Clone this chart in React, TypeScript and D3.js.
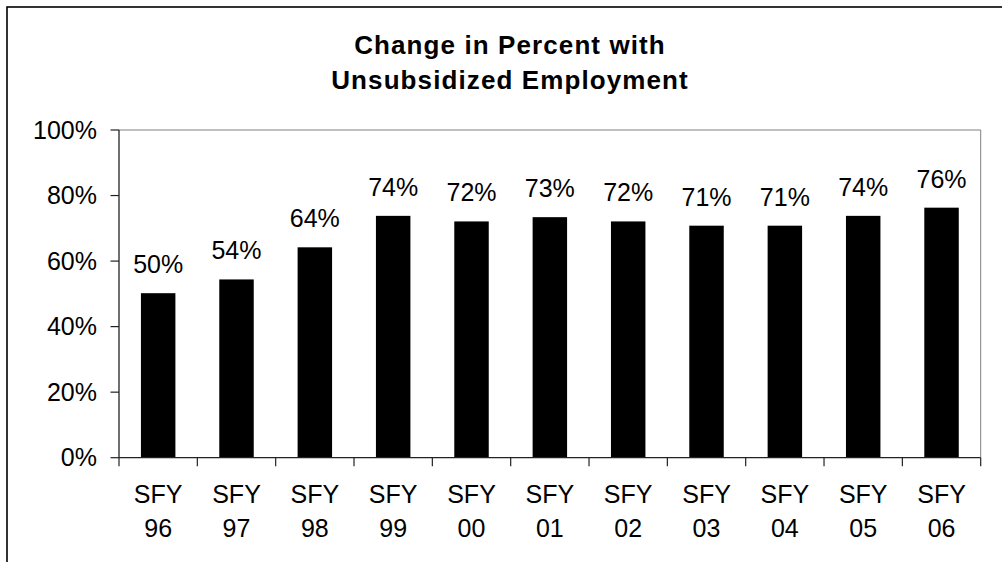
import React from "react";
import * as d3 from "d3";

const categories = ["96", "97", "98", "99", "00", "01", "02", "03", "04", "05", "06"];
const values = [50.2, 54.4, 64.2, 73.8, 72.1, 73.4, 72.1, 70.8, 70.8, 73.8, 76.3];
const labels = ["50%", "54%", "64%", "74%", "72%", "73%", "72%", "71%", "71%", "74%", "76%"];
const yTicks = [0, 20, 40, 60, 80, 100];
const titleLines = ["Change in Percent with", "Unsubsidized Employment"];

const W = 1002;
const H = 562;
const plot = { left: 119, right: 980.7, top: 130, bottom: 457.7 };
const FONT = "'Liberation Sans', Arial, sans-serif";

export default function App() {
  const x = d3
    .scaleBand<string>()
    .domain(categories)
    .range([plot.left, plot.right])
    .paddingInner(0)
    .paddingOuter(0);
  const y = d3.scaleLinear().domain([0, 100]).range([plot.bottom, plot.top]);
  const bw = x.bandwidth() * 0.44;
  const boundaries = d3.range(categories.length + 1).map((i) => plot.left + i * x.step());

  return (
    <svg
      width={W}
      height={H}
      style={{ position: "absolute", left: 0, top: 0, background: "#fff" }}
      fontFamily={FONT}
    >
      <rect x={0} y={0} width={W} height={H} fill="#fff" />
      {/* outer chart border */}
      <rect x={7} y={7} width={1200} height={800} fill="none" stroke="#000" strokeWidth={1.6} />

      {/* title */}
      {titleLines.map((t, i) => (
        <text
          key={t}
          x={510}
          y={53.5 + i * 35}
          textAnchor="middle"
          fontSize={26}
          fontWeight="bold"
          letterSpacing={1.1}
          fill="#000"
        >
          {t}
        </text>
      ))}

      {/* plot area border (top & right) */}
      <path
        d={`M${plot.left},${plot.top}H${plot.right}V${plot.bottom}`}
        fill="none"
        stroke="#808080"
        strokeWidth={1}
      />

      {/* bars */}
      {categories.map((c, i) => (
        <rect
          key={c}
          x={(x(c) as number) + (x.bandwidth() - bw) / 2}
          y={y(values[i])}
          width={bw}
          height={y(0) - y(values[i])}
          fill="#000"
        />
      ))}

      {/* data labels */}
      {categories.map((c, i) => (
        <text
          key={"l" + c}
          x={(x(c) as number) + x.bandwidth() / 2}
          y={y(values[i]) - 20}
          textAnchor="middle"
          fontSize={25}
          fill="#000"
        >
          {labels[i]}
        </text>
      ))}

      {/* y axis */}
      <line x1={plot.left} x2={plot.left} y1={plot.top} y2={plot.bottom} stroke="#222" strokeWidth={1.3} />
      {yTicks.map((t) => (
        <g key={"y" + t}>
          <line x1={plot.left - 8.5} x2={plot.left} y1={y(t)} y2={y(t)} stroke="#222" strokeWidth={1.2} />
          <text x={97} y={y(t) + 8.7} textAnchor="end" fontSize={25} fill="#000">
            {t + "%"}
          </text>
        </g>
      ))}

      {/* x axis */}
      <line x1={plot.left} x2={plot.right} y1={plot.bottom} y2={plot.bottom} stroke="#222" strokeWidth={1.3} />
      {boundaries.map((bx, i) => (
        <line key={"xt" + i} x1={bx} x2={bx} y1={plot.bottom} y2={plot.bottom + 8.5} stroke="#222" strokeWidth={1.2} />
      ))}
      {categories.map((c) => (
        <text key={"x" + c} textAnchor="middle" fontSize={25} fill="#000">
          <tspan x={(x(c) as number) + x.bandwidth() / 2} y={502.7}>
            SFY
          </tspan>
          <tspan x={(x(c) as number) + x.bandwidth() / 2} y={537.3}>
            {c}
          </tspan>
        </text>
      ))}
    </svg>
  );
}
